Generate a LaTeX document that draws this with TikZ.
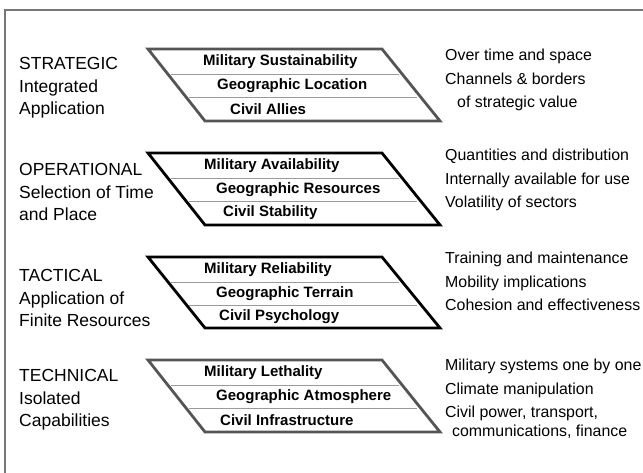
\documentclass[tikz,border=0pt]{standalone}
\usepackage{fontspec}
\setmainfont{Liberation Sans}
\definecolor{framegray}{HTML}{777777}
\definecolor{edgegray}{HTML}{555555}
\definecolor{rulegray}{HTML}{9A9A9A}
\begin{document}
\begin{tikzpicture}[x=1pt,y=-1pt,
    level/.style={line width=2.8pt,line join=miter},
    divider/.style={draw=rulegray,line width=0.8pt},
    rowtext/.style={anchor=west,inner sep=0pt,font=\bfseries\fontsize{15}{18}\selectfont},
    leveltext/.style={anchor=west,align=left,inner sep=0pt,font=\fontsize{17.5}{22.5}\selectfont},
    notetext/.style={anchor=north west,align=left,inner sep=0pt,font=\fontsize{15.9}{23.5}\selectfont}]
    \useasboundingbox (0,0) rectangle (643,472);
    \draw[framegray,line width=1.5pt] (5,10) rectangle (670,500);

    % strategic
    \node[leveltext] (strat) at (19,88) {STRATEGIC\\Integrated\\Application};
    \draw[level,draw=edgegray] (148,49) -- (382,49) -- (440,121) -- (205,121) -- cycle;
    \draw[divider] (171,74) -- (399,74);
    \draw[divider] (189,97) -- (417,97);
    \node[rowtext] (stratMil) at (203,62) {Military Sustainability};
    \node[rowtext] (stratGeo) at (217,86) {Geographic Location};
    \node[rowtext] (stratCiv) at (230,109) {Civil Allies};
    \node[notetext] (stratNote) at (445,49)
        {Over time and space\\Channels \& borders\\\hspace*{12pt}of strategic value};

    % operational
    \node[leveltext] (oper) at (19,192) {OPERATIONAL\\Selection of Time\\and Place};
    \draw[level] (148,153) -- (382,153) -- (440,225) -- (205,225) -- cycle;
    \draw[divider] (171,178) -- (399,178);
    \draw[divider] (189,201) -- (417,201);
    \node[rowtext] (operMil) at (204,166) {Military Availability};
    \node[rowtext] (operGeo) at (216,190) {Geographic Resources};
    \node[rowtext] (operCiv) at (223,213) {Civil Stability};
    \node[notetext] (operNote) at (445,149)
        {Quantities and distribution\\Internally available for use\\Volatility of sectors};

    % tactical
    \node[leveltext] (tact) at (19,298) {TACTICAL\\Application of\\Finite Resources};
    \draw[level] (148,257) -- (382,257) -- (440,328) -- (205,328) -- cycle;
    \draw[divider] (171,282) -- (399,282);
    \draw[divider] (189,305) -- (417,305);
    \node[rowtext] (tactMil) at (204,270) {Military Reliability};
    \node[rowtext] (tactGeo) at (216,294) {Geographic Terrain};
    \node[rowtext] (tactCiv) at (219,317) {Civil Psychology};
    \node[notetext] (tactNote) at (445,252)
        {Training and maintenance\\Mobility implications\\Cohesion and effectiveness};

    % technical
    \node[leveltext] (tech) at (19,400) {TECHNICAL\\Isolated\\Capabilities};
    \draw[level,draw=edgegray] (148,360) -- (382,360) -- (440,432) -- (205,432) -- cycle;
    \draw[divider] (171,385) -- (399,385);
    \draw[divider] (189,408) -- (417,408);
    \node[rowtext] (techMil) at (204,373) {Military Lethality};
    \node[rowtext] (techGeo) at (216,397) {Geographic Atmosphere};
    \node[rowtext] (techCiv) at (220,420) {Civil Infrastructure};
    \node[notetext] (techNote) at (445,359)
        {Military systems one by one\\Climate manipulation\\Civil power, transport,\\[-5pt]\hspace*{7pt}communications, finance};
\end{tikzpicture}
\end{document}
